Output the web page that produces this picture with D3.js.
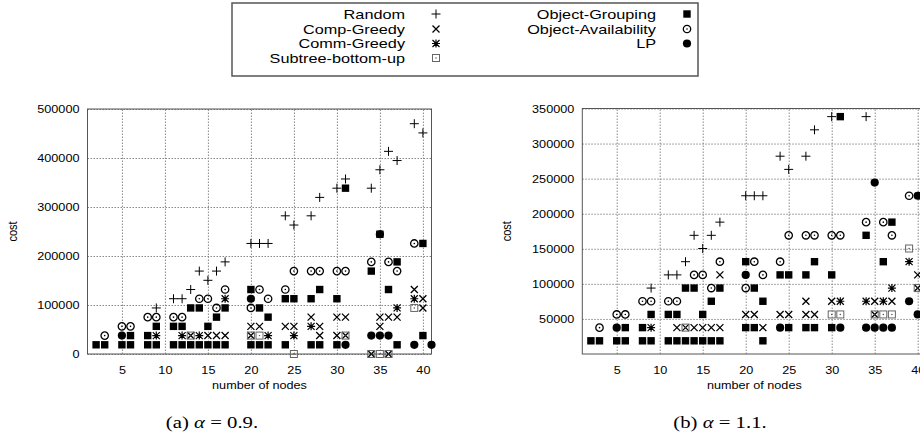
<!DOCTYPE html>
<html>
<head>
<meta charset="utf-8">
<script src="https://cdn.jsdelivr.net/npm/d3@7"></script>
<style>
  body { margin: 0; background: #fff; }
  text { font-family: "Liberation Sans", Arial, sans-serif; fill: #000; }
</style>
</head>
<body>
<div id="fig"></div>
<script>
// series names (legend order) and their gnuplot point types
const seriesNames = ["Random", "Comp-Greedy", "Comm-Greedy", "Subtree-bottom-up", "Object-Grouping", "Object-Availability", "LP"]
const seriesSyms = ["plus", "cross", "star", "boxdot", "square", "circdot", "disc"]
const xTicks = [5, 10, 15, 20, 25, 30, 35, 40]
const yTicksA = [0, 100000, 200000, 300000, 400000, 500000]
const yTicksB = [50000, 100000, 150000, 200000, 250000, 300000, 350000]

// (a) alpha = 0.9   [number of nodes, cost]
const randomA = [[9,94000],[11,112800],[12,112800],[13,131600],[14,169200],[15,150400],[16,169200],[17,188000],[20,225600],[21,225600],[22,225600],[24,282000],[25,263200],[27,282000],[28,319600],[30,338400],[31,357200],[34,338400],[35,376000],[36,413600],[37,394800],[39,470000],[40,451200]]
const compGreedyA = [[13,37600],[15,37600],[16,37600],[17,37600],[20,37600],[28,37600],[30,37600],[31,37600],[20,56400],[21,56400],[24,56400],[25,56400],[28,56400],[35,56400],[27,75200],[30,75200],[31,75200],[35,75200],[36,75200],[37,75200],[40,94000],[40,112800],[39,131600],[34,0],[36,0]]
const commGreedyA = [[9,37600],[12,37600],[14,37600],[22,37600],[25,37600],[27,56400],[37,94000],[17,112800],[39,112800]]
const subtreeA = [[13,37600],[20,37600],[21,37600],[31,37600],[39,94000],[25,0],[34,0],[35,0],[36,0]]
const objGroupA = [[2,18800],[3,18800],[5,18800],[6,18800],[8,18800],[9,18800],[11,18800],[12,18800],[13,18800],[14,18800],[15,18800],[16,18800],[17,18800],[20,18800],[21,18800],[22,18800],[24,18800],[27,18800],[28,18800],[30,18800],[37,18800],
  [6,37600],[8,37600],[40,37600],[9,56400],[11,56400],[12,56400],[15,56400],[16,75200],[22,75200],[13,94000],[14,94000],[17,94000],[21,94000],
  [24,112800],[25,112800],[27,112800],[30,112800],[20,131600],[28,131600],[36,131600],[34,169200],[37,188000],[40,225600],[35,244400],[31,338400]]
const objAvailA = [[3,37600],[5,56400],[6,56400],[8,75200],[9,75200],[11,75200],[12,75200],[16,94000],[20,94000],[14,112800],[15,112800],[22,112800],[17,131600],[21,131600],[24,131600],
  [25,169200],[27,169200],[28,169200],[30,169200],[31,169200],[37,169200],[34,188000],[36,188000],[39,225600]]
const lpA = [[31,18800],[39,18800],[41,18800],[5,37600],[34,37600],[35,37600],[36,37600],[20,112800],[35,244400]]

// (b) alpha = 1.1
const randomB = [[9,94000],[11,112800],[12,112800],[13,131600],[14,169200],[15,150400],[16,169200],[17,188000],[20,225600],[21,225600],[22,225600],[24,282000],[25,263200],[27,282000],[28,319600],[30,338400],[34,338400]]
const compGreedyB = [[12,37600],[13,37600],[14,37600],[15,37600],[16,37600],[17,37600],[22,37600],[20,56400],[21,56400],[24,56400],[25,56400],[27,56400],[28,56400],[35,56400],[27,75200],[30,75200],[35,75200],[37,75200],[40,94000],[17,112800],[40,112800]]
const commGreedyB = [[9,37600],[31,75200],[34,75200],[36,75200],[37,94000],[39,131600]]
const subtreeB = [[13,37600],[30,56400],[31,56400],[35,56400],[36,56400],[37,56400],[40,94000],[39,150400]]
const objGroupB = [[2,18800],[3,18800],[5,18800],[6,18800],[8,18800],[9,18800],[11,18800],[12,18800],[13,18800],[14,18800],[15,18800],[16,18800],[17,18800],[22,18800],
  [6,37600],[8,37600],[20,37600],[21,37600],[25,37600],[27,37600],[28,37600],[30,37600],[9,56400],[11,56400],[12,56400],[15,56400],[16,75200],[22,75200],
  [13,94000],[14,94000],[17,94000],[21,94000],[24,112800],[25,112800],[27,112800],[30,112800],[20,131600],[28,131600],[36,131600],[34,169200],[37,188000],[31,338400]]
const objAvailB = [[3,37600],[5,56400],[6,56400],[8,75200],[9,75200],[11,75200],[12,75200],[16,94000],[20,94000],[14,112800],[15,112800],[22,112800],[17,131600],[21,131600],[24,131600],
  [25,169200],[27,169200],[28,169200],[30,169200],[31,169200],[37,169200],[34,188000],[36,188000],[39,225600]]
const lpB = [[5,37600],[24,37600],[31,37600],[34,37600],[35,37600],[36,37600],[37,37600],[40,56400],[39,75200],[20,112800],[40,225600],[35,244400]]

const svg = d3.select("#fig").append("svg")
  .attr("width", 920)
  .attr("height", 439)

// draws one gnuplot-like point symbol into group s
function sym(s, type){
  if(type == "plus"){
    s.append("path").attr("d", "M-4.5,0H4.5M0,-4.5V4.5").attr("stroke", "#000").attr("stroke-width", 1)
  } else if(type == "cross"){
    s.append("path").attr("d", "M-3.5,-3.5L3.5,3.5M-3.5,3.5L3.5,-3.5").attr("stroke", "#000").attr("stroke-width", 1.3)
  } else if(type == "star"){
    s.append("path").attr("d", "M-3.5,-3.5L3.5,3.5M-3.5,3.5L3.5,-3.5M-4,0H4M0,-4V4").attr("stroke", "#000").attr("stroke-width", 1.2)
  } else if(type == "boxdot"){
    s.append("rect").attr("x", -3.5).attr("y", -3.5).attr("width", 7).attr("height", 7)
      .attr("fill", "none").attr("stroke", "#666").attr("stroke-width", 1)
    s.append("circle").attr("r", 0.7).attr("fill", "#444")
  } else if(type == "square"){
    s.append("rect").attr("x", -3.7).attr("y", -3.7).attr("width", 7.4).attr("height", 7.4).attr("fill", "#000")
  } else if(type == "circdot"){
    s.append("circle").attr("r", 3.7).attr("fill", "none").attr("stroke", "#000").attr("stroke-width", 1.3)
    s.append("circle").attr("r", 0.8).attr("fill", "#000")
  } else if(type == "disc"){
    s.append("circle").attr("r", 4.1).attr("fill", "#000")
  }
}

function panel(left, top, ymax, yTicks, sets, capLetter, alpha, capX){
  const width = 344, bottom = 354
  const x = d3.scaleLinear().domain([1, 41]).range([left, left + width])
  const y = d3.scaleLinear().domain([0, ymax]).range([bottom, top])
  const g = svg.append("g")

  // y grid + labels
  g.append("g")
    .attr("transform", "translate(" + left + ",0)")
    .call(d3.axisLeft(y).tickValues(yTicks).tickSize(-width).tickPadding(7).tickFormat(d => d))
    .call(a => a.select(".domain").remove())
    .call(a => a.selectAll("line").attr("stroke", "#888").attr("stroke-dasharray", "1.5,1.5"))
    .call(a => a.selectAll("text").style("font-size", "11px").attr("fill", "#000").attr("transform", "scale(1.15,1)"))
  // x grid + labels
  g.append("g")
    .attr("transform", "translate(0," + bottom + ")")
    .call(d3.axisBottom(x).tickValues(xTicks).tickSize(-(bottom - top)).tickPadding(12))
    .call(a => a.select(".domain").remove())
    .call(a => a.selectAll("line").attr("stroke", "#888").attr("stroke-dasharray", "1.5,1.5"))
    .call(a => a.selectAll("text").style("font-size", "11px").attr("fill", "#000").attr("transform", "scale(1.15,1)"))

  g.append("rect")
    .attr("x", left).attr("y", top)
    .attr("width", width).attr("height", bottom - top)
    .attr("fill", "none").attr("stroke", "#555").attr("stroke-width", 1)

  g.append("text")
    .attr("transform", "translate(" + (left + width / 2) + ",389) scale(1.15,1)")
    .attr("text-anchor", "middle")
    .style("font-size", "11px")
    .text("number of nodes")
  g.append("text")
    .attr("transform", "translate(" + (left - 71) + "," + ((top + bottom) / 2) + ") rotate(-90) scale(1,1.15)")
    .attr("text-anchor", "middle")
    .style("font-size", "11px")
    .text("cost")

  sets.forEach((data, i) => {
    g.selectAll(null)
      .data(data.filter(d => d[1] <= ymax))
      .enter()
      .append("g")
      .attr("transform", d => "translate(" + x(d[0]) + "," + y(d[1]) + ")")
      .each(function(){ sym(d3.select(this), seriesSyms[i]) })
  })

  const cap = svg.append("text")
    .attr("transform", "translate(" + capX + ",428) scale(1.22,1)")
    .attr("text-anchor", "middle")
    .style("font-family", "'Liberation Serif', 'DejaVu Serif', serif")
    .style("font-size", "17px")
  cap.append("tspan").text("(" + capLetter + ")  ")
  cap.append("tspan").style("font-style", "italic").text("α")
  cap.append("tspan").text(" = " + alpha + ".")
}

panel(87.5, 109, 500000, yTicksA, [randomA, compGreedyA, commGreedyA, subtreeA, objGroupA, objAvailA, lpA], "a", "0.9", 212)
panel(582.3, 108.5, 350000, yTicksB, [randomB, compGreedyB, commGreedyB, subtreeB, objGroupB, objAvailB, lpB], "b", "1.1", 720)

// legend (key)
const key = svg.append("g")
key.append("rect")
  .attr("x", 232).attr("y", 3).attr("width", 466).attr("height", 73)
  .attr("fill", "#fff").attr("stroke", "#555").attr("stroke-width", 1.5)
const rowY = [14, 29, 43.5, 58]
seriesNames.forEach((name, i) => {
  const col = i < 4 ? 0 : 1
  const row = i < 4 ? i : i - 4
  const tx = col == 0 ? 405 : 656
  key.append("text")
    .attr("transform", "translate(" + tx + "," + (rowY[row] + 4.5) + ") scale(1.25,1)")
    .attr("text-anchor", "end")
    .style("font-size", "13px")
    .text(name)
  const s = key.append("g").attr("transform", "translate(" + (tx + 31) + "," + rowY[row] + ")")
  sym(s, seriesSyms[i])
})
</script>
</body>
</html>
